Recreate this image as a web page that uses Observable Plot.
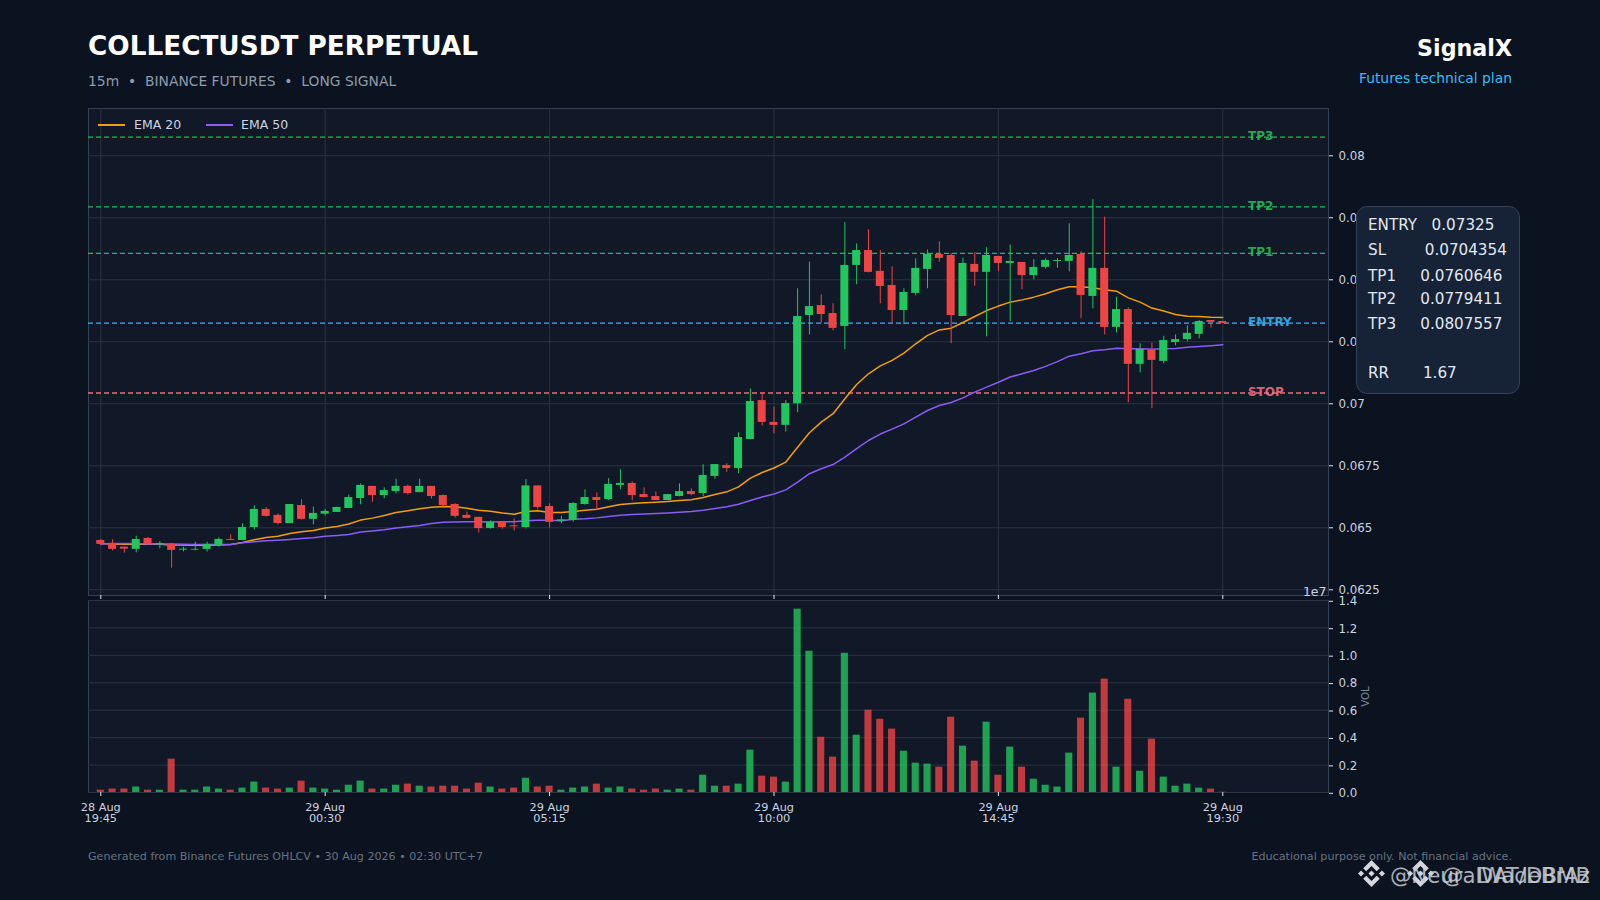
<!DOCTYPE html>
<html><head><meta charset="utf-8">
<script src="https://cdn.jsdelivr.net/npm/d3@7"></script>
<script src="https://cdn.jsdelivr.net/npm/@observablehq/plot@0.6"></script>
<style>
html,body{margin:0;padding:0;width:1600px;height:900px;background:#0b1220;overflow:hidden;font-family:"DejaVu Sans",sans-serif}
.a{position:absolute;white-space:pre;line-height:1}
#stack svg{position:absolute;left:0;top:0;background:transparent;font-family:"DejaVu Sans",sans-serif}
</style></head><body>
<div id="stack"></div>
<div class="a" style="left:88px;top:33px;font-size:26.3px;font-weight:700;color:#fff">COLLECTUSDT PERPETUAL</div>
<div class="a" style="left:88px;top:75px;font-size:13.87px;color:#8f9baa">15m  •  BINANCE FUTURES  •  LONG SIGNAL</div>
<div class="a" style="right:88px;top:37px;font-size:22.2px;font-weight:700;color:#fff">SignalX</div>
<div class="a" style="right:88px;top:72px;font-size:13.87px;color:#38bdf8">Futures technical plan</div>
<div class="a" style="left:98px;top:124px;width:27px;height:1.5px;background:#f59e0b"></div>
<div class="a" style="left:134px;top:119px;font-size:12.5px;color:#cbd5e1">EMA 20</div>
<div class="a" style="left:206px;top:124px;width:27px;height:1.5px;background:#8b5cf6"></div>
<div class="a" style="left:241px;top:119px;font-size:12.5px;color:#cbd5e1">EMA 50</div>
<div class="a" style="left:1355.5px;top:206px;width:162.5px;height:186px;background:#162235;border:1px solid #334155;border-radius:11px"></div>
<div class="a" style="left:1368px;top:218px;font-size:15.2px;color:#e2e8f0" id="info"></div>
<div class="a" style="left:88px;top:851px;font-size:11.1px;color:#667280">Generated from Binance Futures OHLCV • 30 Aug 2026 • 02:30 UTC+7</div>
<div class="a" style="right:88px;top:851px;font-size:11.15px;color:#667280">Educational purpose only. Not financial advice.</div>
<svg class="a" style="left:1358px;top:860px" width="27" height="27" viewBox="0 0 24 24"><path fill="#d4d7dc" d="M16.624 13.9202l2.7175 2.7154-7.353 7.353-7.353-7.352 2.7175-2.7164 4.6355 4.6595 4.6356-4.6595zm4.6366-4.6366L24 12l-2.7154 2.7164L18.5682 12l2.6924-2.7164zm-9.272.001l2.7163 2.6914-2.7164 2.7174v-.001L9.2721 12l2.7164-2.7154zm-9.2722-.001L5.4088 12l-2.6914 2.6924L0 12l2.7164-2.7164zM11.9885.0115l7.353 7.329-2.7174 2.7154-4.6356-4.6356-4.6355 4.6595-2.7174-2.7154 7.353-7.353z"/></svg>
<svg class="a" style="left:1406.5px;top:860px" width="27" height="27" viewBox="0 0 24 24"><path fill="#d4d7dc" d="M16.624 13.9202l2.7175 2.7154-7.353 7.353-7.353-7.352 2.7175-2.7164 4.6355 4.6595 4.6356-4.6595zm4.6366-4.6366L24 12l-2.7154 2.7164L18.5682 12l2.6924-2.7164zm-9.272.001l2.7163 2.6914-2.7164 2.7174v-.001L9.2721 12l2.7164-2.7154zm-9.2722-.001L5.4088 12l-2.6914 2.6924L0 12l2.7164-2.7164zM11.9885.0115l7.353 7.329-2.7174 2.7154-4.6356-4.6356-4.6355 4.6595-2.7174-2.7154 7.353-7.353z"/></svg>
<div class="a" style="right:10px;top:864.5px;font-size:21.3px;color:#c9cdd3;opacity:.85">@NeuralWadeBrAz</div>
<div class="a" style="right:10px;top:864.5px;font-size:21.3px;color:#c9cdd3;opacity:.85">@  DAT/DBMB</div>
<script>
const opens=[.06449,.06437,.06422,.06413,.06457,.06431,.06434,.06410,.06410,.06413,.06429,.06453,.06449,.06501,.06574,.06550,.06517,.06590,.06534,.06555,.06562,.06578,.06618,.06667,.06630,.06646,.06667,.06642,.06667,.06630,.06594,.06550,.06542,
.06497,.06522,.06508,.06501,.06669,.06586,.06526,.06530,.06594,.06622,.06614,.06671,.06679,.06634,.06626,.06610,.06626,.06646,.06638,.06707,.06751,.06739,.06856,.07013,.06925,.06913,
.07000,.07356,.07396,.07364,.07312,.07558,.07618,.07534,.07477,.07376,.07445,.07542,.07602,.07598,.07352,.07562,.07530,.07594,.07566,.07570,.07517,.07550,.07574,.07574,.07602,.07433,.07546,.07308,.07380,.07159,.07215,.07171,.07247,.07259,.07280,.07336,.07332];
const closes=[.06433,.06413,.06414,.06453,.06433,.06437,.06409,.06414,.06413,.06433,.06453,.06449,.06501,.06574,.06546,.06517,.06594,.06534,.06558,.06566,.06582,.06622,.06671,.06630,.06650,.06667,.06638,.06667,.06626,.06590,.06546,.06538,.06497,
.06522,.06501,.06504,.06669,.06582,.06522,.06532,.06598,.06622,.06610,.06675,.06679,.06630,.06622,.06610,.06634,.06646,.06634,.06711,.06755,.06739,.06864,.07009,.06925,.06913,.07001,
.07352,.07392,.07360,.07304,.07558,.07618,.07530,.07473,.07376,.07449,.07546,.07602,.07586,.07356,.07566,.07530,.07598,.07566,.07574,.07517,.07550,.07578,.07578,.07598,.07437,.07546,.07308,.07380,.07159,.07219,.07175,.07255,.07259,.07284,.07332,.07328,.07324];
const highs=[.06453,.06452,.06422,.06466,.06461,.06444,.06437,.06422,.06442,.06442,.06460,.06472,.06516,.06589,.06581,.06556,.06594,.06613,.06583,.06574,.06583,.06632,.06677,.06667,.06661,.06696,.06672,.06696,.06667,.06632,.06597,.06563,.06543,
.06528,.06522,.06536,.06694,.06669,.06597,.06547,.06601,.06653,.06641,.06698,.06734,.06685,.06661,.06645,.06634,.06677,.06657,.06754,.06755,.06758,.06883,.07060,.07046,.06987,.07013,
.07464,.07571,.07439,.07403,.07730,.07645,.07702,.07618,.07552,.07464,.07585,.07620,.07653,.07605,.07587,.07610,.07629,.07594,.07640,.07570,.07581,.07585,.07585,.07726,.07613,.07823,.07753,.07430,.07387,.07242,.07245,.07272,.07278,.07315,.07336,.07336,.07332];
const lows=[.06427,.06407,.06398,.06399,.06431,.06415,.06337,.06403,.06407,.06402,.06422,.06448,.06448,.06491,.06543,.06511,.06517,.06532,.06512,.06548,.06562,.06578,.06593,.06603,.06617,.06637,.06632,.06641,.06616,.06581,.06539,.06536,.06479,
.06495,.06495,.06487,.06496,.06573,.06500,.06516,.06523,.06591,.06569,.06609,.06653,.06609,.06621,.06610,.06610,.06625,.06629,.06626,.06696,.06724,.06718,.06855,.06910,.06879,.06886,
.06964,.07278,.07325,.07294,.07218,.07480,.07528,.07403,.07324,.07319,.07435,.07464,.07571,.07242,.07352,.07474,.07270,.07532,.07331,.07460,.07500,.07543,.07547,.07532,.07343,.07383,.07278,.07286,.07004,.07125,.06980,.07161,.07234,.07250,.07262,.07305,.07324];
const ema20=[.06437,.06435,.06434,.06434,.06434,.06434,.06431,.06431,.06430,.06430,.06431,.06433,.06441,.06452,.06461,.06466,.06477,.06484,.06489,.06499,.06505,.06515,.06531,.06539,.06550,.06562,.06569,.06577,.06583,.06586,.06585,.06579,.06571,
.06567,.06560,.06555,.06566,.06569,.06562,.06562,.06566,.06571,.06575,.06585,.06594,.06598,.06601,.06603,.06606,.06610,.06613,.06622,.06634,.06645,.06665,.06700,.06723,.06741,.06765,
.06825,.06883,.06926,.06960,.07020,.07078,.07121,.07153,.07175,.07204,.07242,.07276,.07298,.07305,.07328,.07352,.07376,.07394,.07410,.07419,.07430,.07444,.07460,.07472,.07472,.07468,.07460,.07454,.07427,.07410,.07386,.07374,.07360,.07353,.07352,.07349,.07348];
const ema50=[.06435,.06437,.06437,.06437,.06435,.06435,.06435,.06434,.06433,.06433,.06433,.06433,.06440,.06444,.06448,.06450,.06453,.06457,.06460,.06466,.06469,.06473,.06483,.06487,.06492,.06499,.06504,.06509,.06517,.06522,.06523,.06524,.06524,
.06523,.06524,.06524,.06528,.06530,.06530,.06528,.06534,.06536,.06540,.06546,.06551,.06554,.06556,.06558,.06560,.06563,.06566,.06571,.06578,.06585,.06595,.06610,.06624,.06636,.06653,
.06684,.06718,.06738,.06755,.06785,.06819,.06852,.06878,.06898,.06919,.06946,.06973,.06993,.07005,.07024,.07047,.07067,.07087,.07108,.07121,.07134,.07151,.07170,.07192,.07202,.07214,.07218,.07224,.07222,.07222,.07220,.07222,.07223,.07228,.07231,.07234,.07238];
const volumes=[.017,.025,.025,.04,.017,.017,.243,.017,.017,.04,.025,.017,.032,.076,.032,.025,.032,.083,.032,.025,.017,.053,.083,.025,.025,.053,.061,.046,.04,.046,.046,.025,.068,.04,.025,.032,.104,.04,.046,.017,.032,.04,.061,.032,.04,.025,.017,.025,.017,.025,.017,.126,.046,.046,.061,.309,.119,.112,.076,
1.337,1.03,.403,.258,1.015,.418,.60,.534,.462,.301,.214,.207,.185,.549,.338,.229,.513,.126,.331,.185,.097,.053,.04,.287,.542,.725,.827,.185,.68,.155,.389,.112,.046,.061,.032,.025,.002];
const xTickIndex=[0,19,38,57,76,95];
const xTickLabels=["28 Aug\n19:45","29 Aug\n00:30","29 Aug\n05:15","29 Aug\n10:00","29 Aug\n14:45","29 Aug\n19:30"];
const priceTicks=[.0625,.065,.0675,.07,.0725,.075,.0775,.08];
const volumeTicks=[0,.2,.4,.6,.8,1,1.2,1.4];
const levelNames=["TP3","TP2","TP1","ENTRY","STOP"];
const levelValues=[.0807557,.0779411,.0760646,.07325,.0704354];
const levelColors=["#22c55e","#22c55e","#22c55e","#38bdf8","#fb7185"];
const infoLines=["ENTRY   0.07325","SL        0.0704354","TP1     0.0760646","TP2     0.0779411","TP3     0.0807557","","RR       1.67"];

const GREEN="#22c55e",RED="#ef4444",GRID="#2a3442",FRAME="#334155",TICK="#e2e8f0",TXT="#cbd5e1";
const xDomain=[-1.04,103.95];
const candles=opens.map((o,i)=>({i,open:o,close:closes[i],high:highs[i],low:lows[i],ema20:ema20[i],ema50:ema50[i],volume:volumes[i],up:closes[i]>=o}));
const levels=levelNames.map((name,k)=>({name,value:levelValues[k],color:levelColors[k]}));
const up=candles.filter(d=>d.up),down=candles.filter(d=>!d.up);
const tickText=new Map(xTickIndex.map((t,k)=>[t,xTickLabels[k]]));

const price=Plot.plot({
  width:1600,height:600,marginLeft:88,marginRight:272,marginTop:108,marginBottom:5,
  style:{color:TXT,background:"transparent"},
  x:{domain:xDomain,axis:null},
  y:{domain:[.06227,.081907],axis:null},
  marks:[
    Plot.frame({fill:"#111827",stroke:FRAME}),
    Plot.gridX(xTickIndex,{stroke:GRID,strokeOpacity:1}),
    Plot.gridY(priceTicks,{stroke:GRID,strokeOpacity:1}),
    ...levels.map(l=>Plot.ruleY([l.value],{stroke:l.color,strokeWidth:1.3,strokeDasharray:"5 3",strokeOpacity:.95})),
    Plot.line(candles,{x:"i",y:"ema20",stroke:"#f59e0b",strokeWidth:1.5}),
    Plot.line(candles,{x:"i",y:"ema50",stroke:"#8b5cf6",strokeWidth:1.5}),
    Plot.ruleX(up,{x:"i",y1:"low",y2:"high",stroke:GREEN,strokeWidth:1}),
    Plot.ruleX(down,{x:"i",y1:"low",y2:"high",stroke:RED,strokeWidth:1}),
    Plot.rect(up,{x1:d=>d.i-.34,x2:d=>d.i+.34,y1:"open",y2:"close",fill:GREEN}),
    Plot.rect(down,{x1:d=>d.i-.34,x2:d=>d.i+.34,y1:"open",y2:"close",fill:RED}),
    Plot.text(levels,{x:97.13,y:"value",dy:-.8,text:"name",fill:"color",fontSize:12,fontWeight:700,textAnchor:"start",fillOpacity:.85}),
    Plot.axisX({anchor:"bottom",ticks:xTickIndex,tickSize:4,tickFormat:()=>"",stroke:TICK,label:null}),
    Plot.axisY({anchor:"right",ticks:priceTicks,tickSize:4,tickPadding:6,fontSize:11.8,stroke:TICK,fill:TXT,tickFormat:d=>String(+d.toFixed(4)),label:null})
  ]
});
const volume=Plot.plot({
  width:1600,height:840,marginLeft:88,marginRight:272,marginTop:600,marginBottom:48,
  style:{color:TXT,background:"transparent"},
  x:{domain:xDomain,axis:null},
  y:{domain:[0,1.4],axis:null},
  marks:[
    Plot.frame({fill:"#111827",stroke:FRAME}),
    Plot.gridY(volumeTicks,{stroke:GRID,strokeOpacity:1}),
    Plot.rectY(up,{x1:d=>d.i-.3,x2:d=>d.i+.3,y1:0,y2:"volume",fill:GREEN,fillOpacity:.8}),
    Plot.rectY(down,{x1:d=>d.i-.3,x2:d=>d.i+.3,y1:0,y2:"volume",fill:RED,fillOpacity:.8}),
    Plot.axisX({anchor:"bottom",ticks:xTickIndex,tickSize:4,tickPadding:6,fontSize:11.3,lineHeight:1,stroke:TICK,fill:TXT,tickFormat:d=>tickText.get(d),label:null}),
    Plot.axisY({anchor:"right",ticks:volumeTicks,tickSize:4,tickPadding:6,fontSize:11.8,stroke:TICK,fill:TXT,tickFormat:d=>d.toFixed(1),label:null,dy:.8}),
    Plot.text(["1e7"],{x:xDomain[1],y:1.4,dx:-2,dy:-9,textAnchor:"end",fontSize:12.5,fill:TXT}),
    Plot.text(["VOL"],{x:xDomain[1],y:.7,dx:37,rotate:-90,fontSize:10.3,fill:"#7c8a9e"})
  ]
});
const stack=document.getElementById("stack");
stack.appendChild(price);stack.appendChild(volume);
const info=document.getElementById("info");
const infoTops=[0,25,50.5,74,99,0,148];
infoLines.forEach((t,k)=>{ if(!t) return;
  const el=document.createElement("div");el.className="a";el.style.top=infoTops[k]+"px";el.style.left="0";el.textContent=t;info.appendChild(el);});
</script>
</body></html>
